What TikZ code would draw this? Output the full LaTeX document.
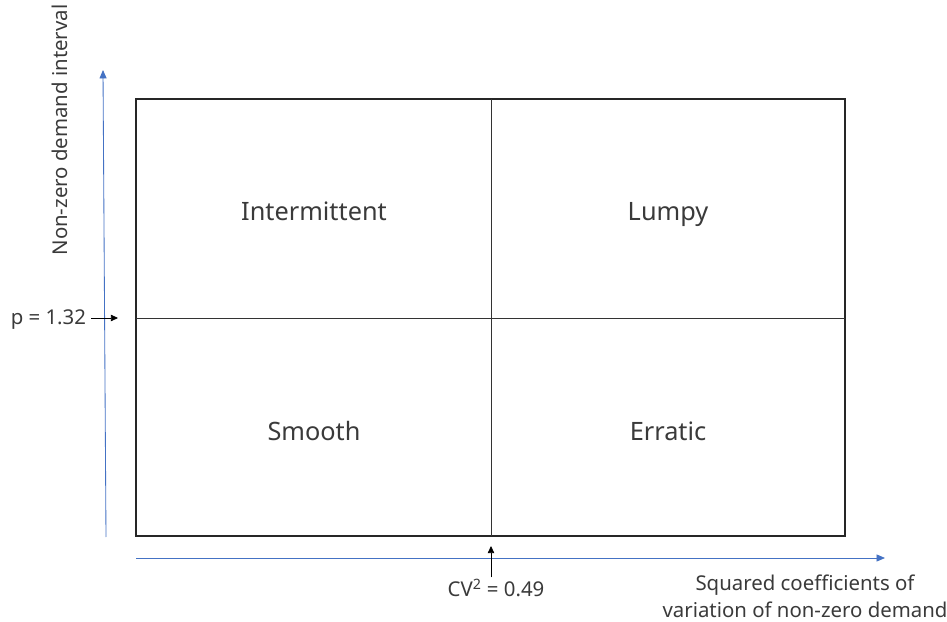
\documentclass[tikz,border=0pt]{standalone}
\usepackage{fontspec}
\setmainfont{Noto Sans}
\usetikzlibrary{arrows.meta,positioning}
\definecolor{axisblue}{HTML}{4472C4}
\definecolor{textgray}{HTML}{3A3A3A}

\begin{document}
\begin{tikzpicture}[x=0.025cm, y=-0.025cm,
                axisline/.style={draw=axisblue, line width=0.6pt, -{Triangle[length=6pt, width=5pt]}},
                marker/.style={line width=0.5pt, -{Triangle[length=5pt, width=4.5pt]}},
                quad/.style={text=textgray, anchor=base, font=\fontsize{18}{22}\selectfont},
                note/.style={text=textgray, font=\fontsize{14.5}{19}\selectfont}]
                \useasboundingbox (0,0) rectangle (947,622);

                % the four quadrants
                \coordinate (sw) at (136,536);
                \coordinate (ne) at (845,99);
                \coordinate (mid) at (491,318);
                \draw[line width=1pt, draw=black!85] (sw) rectangle (ne);
                \draw[line width=0.5pt, draw=black!80] (mid |- ne) -- (mid |- sw);
                \draw[line width=0.5pt, draw=black!80] (sw |- mid) -- (ne |- mid);

                \node[quad]         (inter) at (314,221)  {Intermittent};
                \node[quad]         (lumpy) at (668,221)  {Lumpy};
                \node[quad]         (smooth) at (314,440) {Smooth};
                \node[quad]         (erratic) at (668,440) {Erratic};

                % axes
                \coordinate (yfoot) at (106,537);
                \coordinate (ytip) at (103,70);
                \coordinate (xfoot) at (136,558);
                \coordinate (xtip) at (885,558);
                \draw[axisline] (yfoot) -- (ytip);
                \draw[axisline] (xfoot) -- (xtip);

                \node[note, rotate=90] (ylabel) at (60,130) {Non-zero demand interval};
                \node[note, align=center] (xlabel) at (805,596) {Squared coefficients of\\variation of non-zero demand};

                % thresholds
                \coordinate (pmark) at (118,318);
                \coordinate (cvmark) at (491,546);
                \node[note, anchor=east] (p) at (91,320) {p = 1.32};
                \node[note, inner sep=1pt] (cv) at (496,588) {CV\textsuperscript{2} = 0.49};

                \draw[marker] (p.east |- pmark) -- (pmark);
                \draw[marker] (cvmark |- cv.north) -- (cvmark);
            \end{tikzpicture}
\end{document}
